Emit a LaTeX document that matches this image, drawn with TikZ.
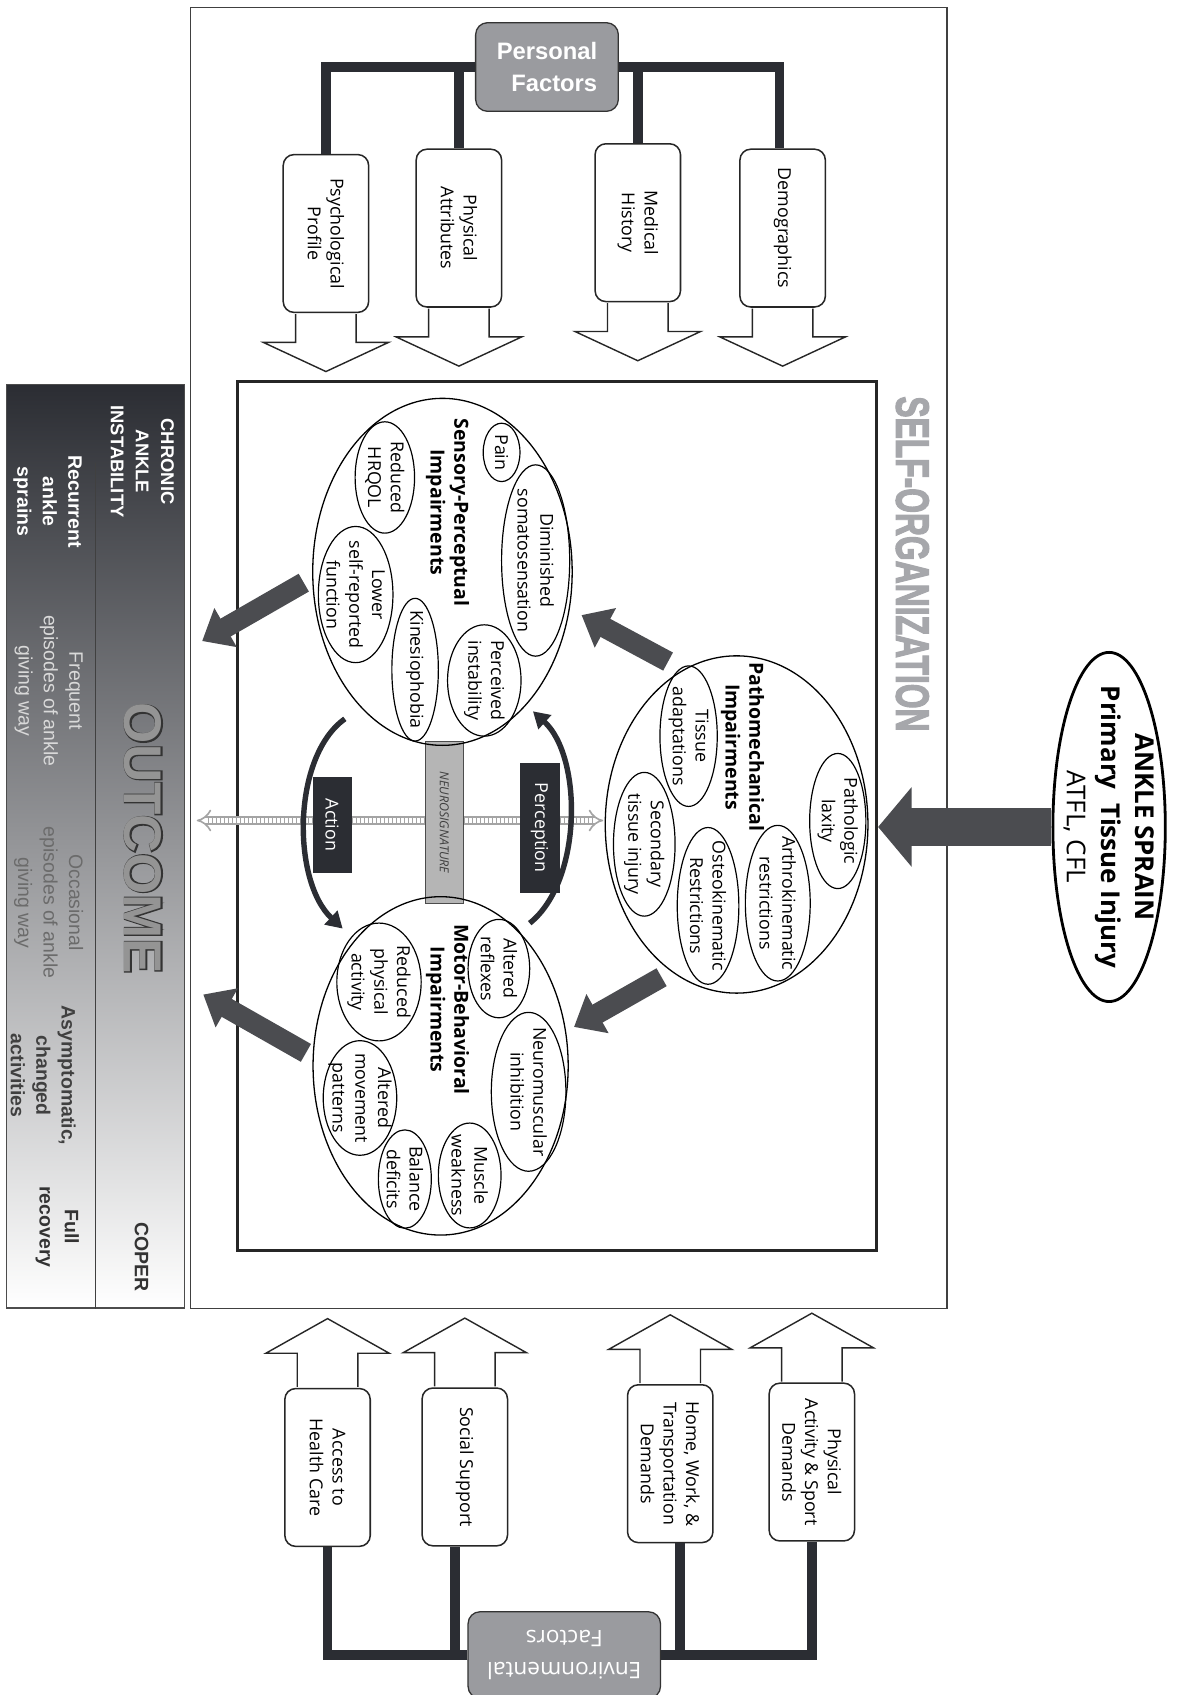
\documentclass[tikz,border=0pt]{standalone}
\usepackage{xcolor}
\usepackage{graphicx}
\usepackage{fontspec}
\setmainfont{Open Sans}
\newfontfamily\arialfont{Liberation Sans}
\usepackage{tikz}
\usetikzlibrary{shapes.geometric,arrows.meta,positioning}
\definecolor{charcoal}{HTML}{2B2D33}
\definecolor{arrowgrey}{HTML}{4B4C50}
\definecolor{boxgrey}{HTML}{9A9B9F}
\definecolor{selfgrey}{HTML}{A6A7AB}
\definecolor{neurogrey}{HTML}{B5B5B5}
\definecolor{laddergrey}{HTML}{A4A4A4}
\tikzset{
  pfbox/.style={draw=black!85,line width=1.4pt,fill=white,rounded corners=10pt,rotate=-90,minimum width=146pt,minimum height=79pt,align=center,inner sep=0pt,font=\fontsize{16.5}{21}\selectfont},
  factor/.style={draw=black!80,line width=1.2pt,fill=boxgrey,rounded corners=11pt,text=white,inner sep=0pt},
  tree/.style={draw=charcoal,line width=9pt},
  bigcirc/.style={ellipse,draw,line width=1.2pt,inner sep=0pt},
  subell/.style 2 args={ellipse,draw,line width=1.1pt,rotate=-90,minimum width=#1,minimum height=#2,inner sep=-12pt,align=center,font=\fontsize{16.5}{21}\selectfont},
  ititle/.style={rotate=-90,align=center,inner sep=0pt,font=\fontsize{18}{22}\selectfont\bfseries},
  loopbox/.style={fill=charcoal,text=white,rotate=-90,inner sep=0pt,font=\fontsize{16.5}{20}\selectfont},
  darkarrow/.style={draw=arrowgrey,line width=19pt,-{Triangle[length=25pt,width=40pt]}},
  loopcurve/.style={draw=charcoal,line width=5pt,-{Triangle[length=15pt,width=17pt]}},
  outtext/.style={rotate=-90,align=center,inner sep=0pt,font=\arialfont\fontsize{18}{23.5}\selectfont},
  outbold/.style={outtext,font=\arialfont\fontsize{18}{23.5}\selectfont\bfseries},
  hollow/.style={draw=black!85,line width=1.3pt,fill=white,line join=miter},
  hollowdown/.pic={\draw[hollow] (-28,0.8) -- (-28,27) -- (-58,27) -- (0,54) -- (58,27) -- (28,27) -- (28,0.8);},
  hollowup/.pic={\draw[hollow] (-28,-0.8) -- (-28,-32) -- (-57,-32) -- (0,-64) -- (57,-32) -- (28,-32) -- (28,-0.8);}
}

\begin{document}
\begin{tikzpicture}[x=1pt,y=-1pt]
    \path[use as bounding box,fill=white] (0,0) rectangle (1091,1568);

    % frames
    \node[draw=black!75,line width=1.3pt,minimum width=700pt,minimum height=1203pt,inner sep=0pt] (frame) at (526,608.7) {};
    \node[draw=black!85,line width=2.6pt,minimum width=591pt,minimum height=804pt,inner sep=0pt] (inner) at (515.5,755) {};

    % outcome panel
    \node[draw=black!70,line width=1pt,top color=charcoal,bottom color=white,minimum width=165pt,minimum height=854pt,inner sep=0pt] (outcome) at (88.5,783) {};
    \coordinate (divtop) at (88.7,428);
    \draw[black!75,line width=1pt] (divtop) -- (divtop |- outcome.south);
    \node[outbold,text=white,font=\arialfont\fontsize{17}{23.2}\selectfont\bfseries] (cai) at (131.6,427) {CHRONIC\\ANKLE\\INSTABILITY};
    \node[outbold,text=black!80] (coper) at (131,1163) {COPER};
    \node[outbold,text=white] (recur) at (44,464) {Recurrent\\ankle\\sprains};
    \node[outtext,text=black!15] (freq) at (45,639) {Frequent\\episodes of ankle\\giving way};
    \node[outtext,text=black!58] (occas) at (45,835) {Occasional\\episodes of ankle\\giving way};
    \node[outbold,text=black!75] (asym) at (40,995) {Asymptomatic,\\changed\\activities};
    \node[outbold,text=black!80] (full) at (53,1135) {Full\\recovery};
    \node[rotate=-90,inner sep=0pt,text=black!80,font=\arialfont\fontsize{49}{50}\selectfont\bfseries] (outc) at (132.5,775.5) {\addfontfeature{FakeBold=4}OUTCOME};
    \node[rotate=-90,inner sep=0pt,text=black!42,font=\arialfont\fontsize{49}{50}\selectfont\bfseries] (outcin) at (outc) {OUTCOME};

    % self-organization and injury
    \node[rotate=-90,inner sep=0pt,text=selfgrey] (selforg) at (844,521.7) {\resizebox{310pt}{30pt}{\arialfont\bfseries\addfontfeature{FakeBold=3}SELF-ORGANIZATION}};
    \node[ellipse,draw,line width=2.6pt,rotate=-90,minimum width=323pt,minimum height=104pt,inner sep=-20pt,align=center,font=\fontsize{24}{32}\selectfont] (ankle) at (1026,765) {\textbf{ANKLE SPRAIN}\\\textbf{Primary\ \ Tissue Injury}\\ATFL, CFL};
    \draw[draw=arrowgrey,line width=36pt,-{Triangle[length=31pt,width=72pt]}] (ankle.south) -- (ankle.south -| inner.east);

    % neurosignature axis
    \coordinate (hl) at (182,759);
    \coordinate (hr) at (558,759);
    \draw[laddergrey,line width=1.5pt,double=white,double distance=5.5pt,{Implies[length=9pt,width=22pt]}-{Implies[length=9pt,width=22pt]}] (hl) -- (hr);
    \draw[laddergrey,line width=5.5pt,dash pattern=on 1.3pt off 2.4pt,shorten <=10pt,shorten >=10pt] (hl) -- (hr);
    \node[fill=neurogrey,draw=black!70,line width=1pt,rotate=-90,minimum width=150pt,minimum height=34.5pt,inner sep=0pt,text=black!75,font=\fontsize{11.5}{13}\selectfont\itshape] (neuro) at (411.1,760.7) {NEUROSIGNATURE};
    \node[loopbox,minimum width=89pt,minimum height=36pt] (action) at (307.2,763.2) {Action};
    \node[loopbox,minimum width=120pt,minimum height=37pt] (percep) at (499.2,765.7) {Perception};

    % impairment domains
    \node[bigcirc,minimum width=240pt,minimum height=321pt] (sensory) at (409.3,529) {};
    \node[bigcirc,minimum width=236pt,minimum height=313pt] (motor) at (407.6,986) {};
    \node[bigcirc,minimum width=243pt,minimum height=312pt] (patho) at (681.4,762.7) {};
    \node[ititle] (senst) at (414,474) {Sensory-Perceptual\\Impairments};
    \node[ititle] (motort) at (414,934) {Motor-Behavioral\\Impairments};
    \node[ititle] (pathot) at (687,691) {Pathomechanical\\Impairments};

    \node[subell={54pt}{34pt}] (pain) at (464,418.5) {Pain};
    \node[subell={177pt}{63pt}] (dimin) at (495.5,518.5) {Diminished\\somatosensation};
    \node[subell={103pt}{68pt}] (perinst) at (448,629.5) {Perceived\\instability};
    \node[subell={132pt}{43pt}] (kines) at (384,619.5) {Kinesiophobia};
    \node[subell={126pt}{69pt}] (lowsr) at (329,550) {Lower\\self-reported\\function};
    \node[subell={103pt}{55pt}] (hrqol) at (356,441.7) {Reduced\\HRQOL};

    \node[subell={91pt}{57pt}] (altref) at (461.5,896) {Altered\\reflexes};
    \node[subell={147pt}{69pt}] (nminh) at (489,1010) {Neuromuscular\\inhibition};
    \node[subell={97pt}{58pt}] (muscw) at (434.5,1087.4) {Muscle\\weakness};
    \node[subell={91pt}{49pt}] (baldef) at (374.5,1090.7) {Balance\\deficits};
    \node[subell={106pt}{68pt}] (altmov) at (333,1015.7) {Altered\\movement\\patterns};
    \node[subell={109pt}{78pt}] (redpa) at (350.6,908.4) {Reduced\\physical\\activity};

    \node[subell={125pt}{52pt}] (laxity) at (775,759.5) {Pathologic\\laxity};
    \node[subell={144pt}{60pt}] (arthro) at (719.5,835.5) {Arthrokinematic\\restrictions};
    \node[subell={145pt}{57pt}] (osteo) at (655,838) {Osteokinematic\\Restrictions};
    \node[subell={133pt}{57pt}] (secinj) at (596,781) {Secondary\\tissue injury};
    \node[subell={130pt}{53pt}] (tisad) at (637,681) {Tissue\\adaptations};

    % flows between domains
    \coordinate (ps0) at (618,612);
    \coordinate (ps1) at (538,569);
    \coordinate (pm0) at (612,904);
    \coordinate (pm1) at (531,950);
    \coordinate (so0) at (281,539);
    \coordinate (so1) at (187,593);
    \coordinate (mo0) at (283,974);
    \coordinate (mo1) at (188,920);
    \draw[darkarrow] (ps0) -- (ps1);
    \draw[darkarrow] (pm0) -- (pm1);
    \draw[darkarrow] (so0) -- (so1);
    \draw[darkarrow] (mo0) -- (mo1);

    \coordinate (act0) at (319,665);
    \coordinate (act1) at (317,859);
    \coordinate (per0) at (490,854);
    \coordinate (per1) at (493,658);
    \draw[loopcurve] (act0) .. controls (270,700) and (270,815) .. (act1);
    \draw[loopcurve] (per0) .. controls (539,815) and (539,700) .. (per1);

    % personal factors
    \node[factor,minimum width=132pt,minimum height=82pt,align=right,font=\arialfont\fontsize{22}{29}\selectfont\bfseries] (pf) at (506,62) {Personal\\Factors};
    \node[pfbox] (psych) at (301.5,216) {Psychological\\Profile};
    \node[pfbox] (phys) at (424.5,211) {Physical\\Attributes};
    \node[pfbox] (med) at (590,206) {Medical\\History};
    \node[pfbox] (demo) at (724,211) {Demographics};
    \draw[tree] (pf.west) -| (psych.west);
    \draw[tree] (pf.west) -| (phys.west);
    \draw[tree] (pf.east) -| (med.west);
    \draw[tree] (pf.east) -| ([xshift=-3pt]demo.west);
    \pic at (psych.east) {hollowdown};
    \pic at (phys.east) {hollowdown};
    \pic at (med.east) {hollowdown};
    \pic at (demo.east) {hollowdown};

    % environmental factors
    \node[factor,rotate=180,minimum width=178pt,minimum height=80pt,align=center,font=\fontsize{21}{29}\selectfont] (env) at (522,1531) {Environmental\\Factors};
    \node[pfbox] (access) at (303,1357.5) {Access to\\Health Care};
    \node[pfbox] (social) at (430,1357) {Social Support};
    \node[pfbox] (home) at (620,1354) {Home, Work, \&\\Transportation\\Demands};
    \node[pfbox] (physact) at (751,1352.5) {Physical\\Activity \& Sport\\Demands};
    \draw[tree] (env.east) -| (access.east);
    \draw[tree] (env.east) -| ([xshift=-9pt]social.east);
    \draw[tree] (env.west) -| ([xshift=9pt]home.east);
    \draw[tree] (env.west) -| (physact.east);
    \pic at (access.west) {hollowup};
    \pic at (social.west) {hollowup};
    \pic at (home.west) {hollowup};
    \pic at (physact.west) {hollowup};
\end{tikzpicture}
\end{document}
